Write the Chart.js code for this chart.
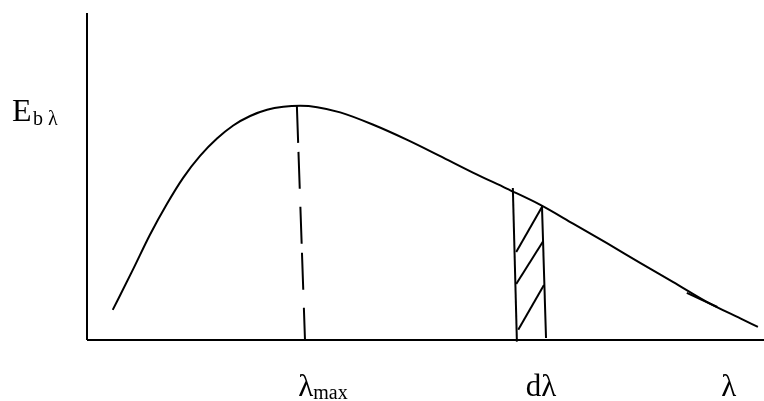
<!DOCTYPE html>
<html>
<head>
<meta charset="utf-8">
<script src="https://cdn.jsdelivr.net/npm/chart.js@4"></script>
<style>
  body { margin: 0; background: #fff; }
  #wrap { width: 764px; height: 401px; position: relative; }
</style>
</head>
<body>
<div id="wrap"><canvas id="chart"></canvas></div>
<script>
// courbe E_bλ (unités arbitraires)
const curveLambda = [0.38, 0.68, 0.93, 1.18, 1.42, 1.67, 1.92, 2.16, 2.41, 2.66, 2.90, 3.15, 3.40, 3.74, 4.22, 4.73, 5.21, 5.70, 6.20, 6.69, 7.18, 7.68, 8.17, 8.66, 9.16, 9.65, 9.91];
const curveE      = [9.2, 21.6, 32.2, 41.6, 49.6, 56.3, 61.6, 65.6, 68.5, 70.4, 71.3, 71.6, 71.2, 69.6, 65.9, 61.2, 56.3, 51.2, 46.3, 41.4, 35.6, 29.6, 23.6, 17.7, 11.6, 6.6, 4.0];

// trait pointillé à λmax
const maxLambda = [3.10, 3.22];
const maxE      = [71.6, 0];

// bande dλ (bords + hachures)
const stripLeftLambda  = [6.29, 6.35];
const stripLeftE       = [46.5, -0.5];
const stripRightLambda = [6.72, 6.78];
const stripRightE      = [41.3, 0.6];
const hatchLambda = [[6.34, 6.72], [6.34, 6.74], [6.37, 6.75]];
const hatchE      = [[26.9, 40.7], [17.1, 30.3], [3.1, 16.8]];

// petit trait parasite en bas à droite
const strayLambda = [8.86, 9.31];
const strayE      = [14.4, 10.1];

// libellés de l'axe des λ
const xLabels      = ["λ", "dλ", "λ"];
const xLabelSubs   = ["max", "", ""];
const xLabelLambda = [3.12, 6.48, 9.37];

function pts(xs, ys) {
  return xs.map((x, i) => ({ x: x, y: ys[i] }));
}

function lineSet(data, extra) {
  return Object.assign({
    data: data,
    showLine: true,
    borderColor: "#000",
    borderWidth: 2,
    pointRadius: 0,
    fill: false,
    clip: false
  }, extra || {});
}

const datasets = [
  lineSet(pts([0, 10], [0, 0])),   // axe x
  lineSet(pts([0, 0], [0, 100])),  // axe y
  lineSet(pts(curveLambda, curveE), { cubicInterpolationMode: "monotone" }),
  lineSet(pts(maxLambda, maxE), { borderDash: [37, 9, 37, 18] }),
  lineSet(pts(stripLeftLambda, stripLeftE)),
  lineSet(pts(stripRightLambda, stripRightE)),
  lineSet(pts(strayLambda, strayE))
];
hatchLambda.forEach((xs, i) => datasets.push(lineSet(pts(xs, hatchE[i]))));

const labelsPlugin = {
  id: "labels",
  afterDraw(c) {
    const ctx = c.ctx;
    const xs = c.scales.x;
    const base = c.chartArea.bottom + 56;
    ctx.save();
    ctx.fillStyle = "#000";
    ctx.textBaseline = "alphabetic";
    ctx.textAlign = "left";

    // axe y : E_b λ
    ctx.font = "32px 'Liberation Serif'";
    ctx.fillText("E", 12, 121);
    ctx.font = "20px 'Liberation Serif'";
    ctx.fillText("b λ", 33, 125);

    xLabels.forEach((t, i) => {
      const px = xs.getPixelForValue(xLabelLambda[i]);
      ctx.font = "31px 'Liberation Serif'";
      ctx.fillText(t, px, base);
      if (xLabelSubs[i]) {
        const w = ctx.measureText(t).width;
        ctx.font = "20px 'Liberation Serif'";
        ctx.fillText(xLabelSubs[i], px + w, base + 3);
      }
    });
    ctx.restore();
  }
};

new Chart(document.getElementById("chart"), {
  type: "scatter",
  data: { datasets: datasets },
  options: {
    responsive: true,
    maintainAspectRatio: false,
    animation: false,
    layout: { padding: { left: 87, right: 0, top: 13, bottom: 61 } },
    scales: {
      x: { type: "linear", min: 0, max: 10, display: false },
      y: { type: "linear", min: 0, max: 100, display: false }
    },
    plugins: {
      legend: { display: false },
      tooltip: { enabled: false }
    }
  },
  plugins: [labelsPlugin]
});
</script>
</body>
</html>
